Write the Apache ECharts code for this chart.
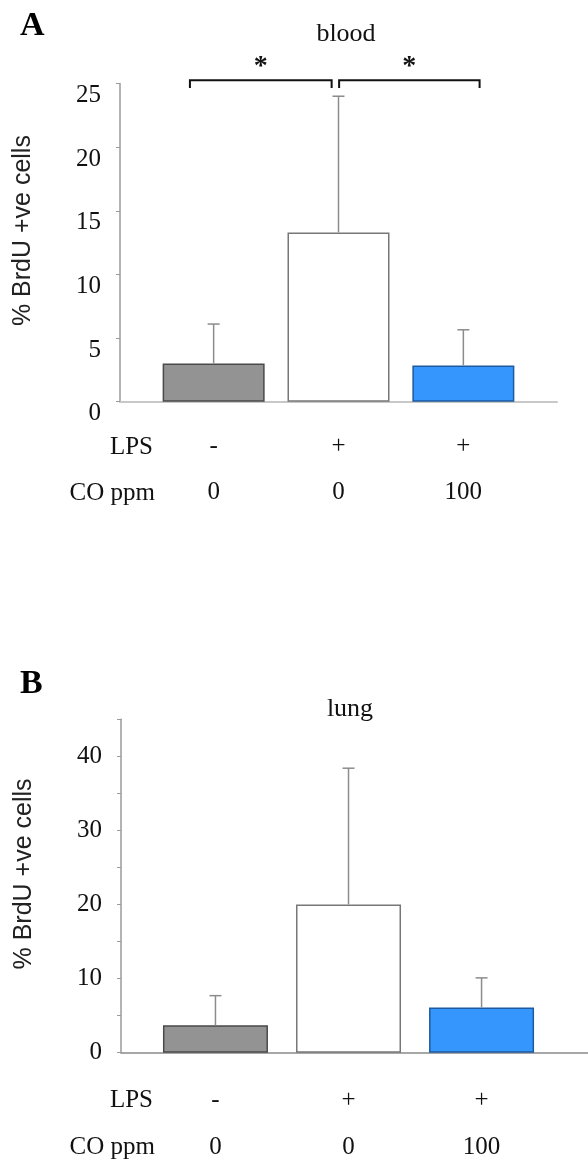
<!DOCTYPE html>
<html><head><meta charset="utf-8">
<script src="https://cdn.jsdelivr.net/npm/echarts@6/dist/echarts.min.js"></script>
<style>html,body{margin:0;padding:0;background:#fff}#c{width:588px;height:1161px}</style>
</head><body><div id="c"></div>
<script>
// ---- data ----
const groups = [0, 1, 2];
const lpsLabels = ['-', '+', '+'];
const coLabels = ['0', '0', '100'];
const barColors = ['#939393', '#ffffff', '#3597fd'];
const barBorders = ['#4a4a4a', '#777777', '#1d5a9e'];
const bloodMeans = [3.0, 13.3, 2.85];
const bloodSD = [3.1, 10.7, 2.8];
const lungMeans = [3.7, 20.0, 6.1];
const lungSD = [4.0, 18.4, 4.0];
const bloodTicks = [0, 5, 10, 15, 20, 25];
const lungTicks = [0, 10, 20, 30, 40];
// significance brackets on blood panel: [from, to] in group units
const brackets = [[-0.19, 0.945], [1.005, 2.13]];
const bracketLevel = 25.25, bracketDrop = 24.65, starLevel = 26.3;

const serif = 'Liberation Serif';
const chart = echarts.init(document.getElementById('c'), null, {renderer: 'canvas'});

function errRender(params, api) {
  const x = api.value(0), m = api.value(1), s = api.value(2);
  const b = api.coord([x, m]), t = api.coord([x, m + s]);
  const st = {stroke: '#8c8c8c', lineWidth: 1.5};
  return {type: 'group', children: [
    {type: 'line', shape: {x1: b[0], y1: b[1], x2: t[0], y2: t[1]}, style: st},
    {type: 'line', shape: {x1: t[0] - 6, y1: t[1], x2: t[0] + 6, y2: t[1]}, style: st}
  ]};
}
function bracketRender(params, api) {
  const x0 = api.value(0), x1 = api.value(1);
  const p0 = api.coord([x0, bracketDrop]), p1 = api.coord([x0, bracketLevel]);
  const p2 = api.coord([x1, bracketLevel]), p3 = api.coord([x1, bracketDrop]);
  const s = api.coord([(x0 + x1) / 2, starLevel]);
  return {type: 'group', children: [
    {type: 'polyline', shape: {points: [p0, p1, p2, p3]}, style: {stroke: '#111', lineWidth: 2, fill: null}},
    {type: 'text', style: {text: '*', x: s[0], y: s[1], align: 'center', verticalAlign: 'middle',
      font: 'bold 28px "Liberation Serif"', fill: '#111'}}
  ]};
}

function xAxisDef(grid, min, max, lineColor, lineWidth, margin, lh) {
  return {
    type: 'value', gridIndex: grid, min: min, max: max,
    axisLine: {show: true, onZero: false, lineStyle: {color: lineColor, width: lineWidth}},
    axisTick: {show: false}, splitLine: {show: false},
    axisLabel: {
      customValues: groups, margin: margin, lineHeight: lh,
      fontFamily: serif, fontSize: 25, color: '#111',
      formatter: v => { const i = Math.round(v); return lpsLabels[i] + '\n' + coLabels[i]; }
    }
  };
}
function yAxisDef(grid, max, ticks, vAlign, lh, padName) {
  return {
    type: 'value', gridIndex: grid, min: 0, max: max, interval: 5,
    axisLine: {show: true, onZero: false, lineStyle: {color: '#9a9a9a', width: 1.5}},
    axisTick: {show: true, inside: false, length: 4, lineStyle: {color: '#9a9a9a'}},
    splitLine: {show: false},
    axisLabel: {margin: 19, fontFamily: serif, fontSize: 25, color: '#111', verticalAlign: vAlign, lineHeight: lh,
      formatter: v => ticks.includes(v) ? String(v) : ''},
    name: '% BrdU +ve cells', nameLocation: 'middle', nameGap: 84, nameRotate: 90,
    nameTextStyle: {fontFamily: 'Liberation Sans', fontSize: 25, color: '#222', padding: [0, 0, 0, padName]}
  };
}
function barSeries(grid, means, width) {
  return {
    type: 'bar', xAxisIndex: grid, yAxisIndex: grid, barWidth: width, z: 2,
    data: groups.map((g, i) => ({value: [g, means[i]],
      itemStyle: {color: barColors[i], borderColor: barBorders[i], borderWidth: 1.5}}))
  };
}
function errSeries(grid, means, sds) {
  return {
    type: 'custom', xAxisIndex: grid, yAxisIndex: grid, z: 3, clip: false,
    renderItem: errRender, data: groups.map((g, i) => [g, means[i], sds[i]])
  };
}

chart.setOption({
  animation: false,
  backgroundColor: '#fff',
  textStyle: {fontFamily: serif},
  title: [
    {text: 'A', left: 20, top: 9, padding: 0, textStyle: {fontFamily: serif, fontWeight: 'bold', fontSize: 34, color: '#000'}},
    {text: 'blood', left: 346, top: 21, padding: 0, textAlign: 'center', textStyle: {fontFamily: serif, fontWeight: 'normal', fontSize: 26, color: '#111'}},
    {text: 'B', left: 20, top: 667, padding: 0, textStyle: {fontFamily: serif, fontWeight: 'bold', fontSize: 34, color: '#000'}},
    {text: 'lung', left: 350, top: 696, padding: 0, textAlign: 'center', textStyle: {fontFamily: serif, fontWeight: 'normal', fontSize: 26, color: '#111'}}
  ],
  grid: [
    {left: 120, top: 83.5, width: 437, height: 318.2, outerBoundsMode: 'none', containLabel: false},
    {left: 121, top: 719.3, width: 467, height: 333.4, outerBoundsMode: 'none', containLabel: false}
  ],
  xAxis: [
    xAxisDef(0, -0.75, 2.75, '#c8c8c8', 2, 22, 46),
    xAxisDef(1, -0.71, 2.80, '#8a8a8a', 1.5, 24, 47)
  ],
  yAxis: [
    yAxisDef(0, 25, bloodTicks, 'top', 24, 24),
    yAxisDef(1, 45, lungTicks, 'middle', 25, 24)
  ],
  graphic: [
    {type: 'text', x: 153, y: 447, style: {text: 'LPS', align: 'right', verticalAlign: 'middle', font: '25px "Liberation Serif"', fill: '#111'}},
    {type: 'text', x: 155, y: 493, style: {text: 'CO ppm', align: 'right', verticalAlign: 'middle', font: '25px "Liberation Serif"', fill: '#111'}},
    {type: 'text', x: 153, y: 1100, style: {text: 'LPS', align: 'right', verticalAlign: 'middle', font: '25px "Liberation Serif"', fill: '#111'}},
    {type: 'text', x: 155, y: 1147, style: {text: 'CO ppm', align: 'right', verticalAlign: 'middle', font: '25px "Liberation Serif"', fill: '#111'}}
  ],
  series: [
    barSeries(0, bloodMeans, 102),
    errSeries(0, bloodMeans, bloodSD),
    {type: 'custom', xAxisIndex: 0, yAxisIndex: 0, z: 4, clip: false, renderItem: bracketRender, data: brackets},
    barSeries(1, lungMeans, 105),
    errSeries(1, lungMeans, lungSD)
  ]
});
</script></body></html>
